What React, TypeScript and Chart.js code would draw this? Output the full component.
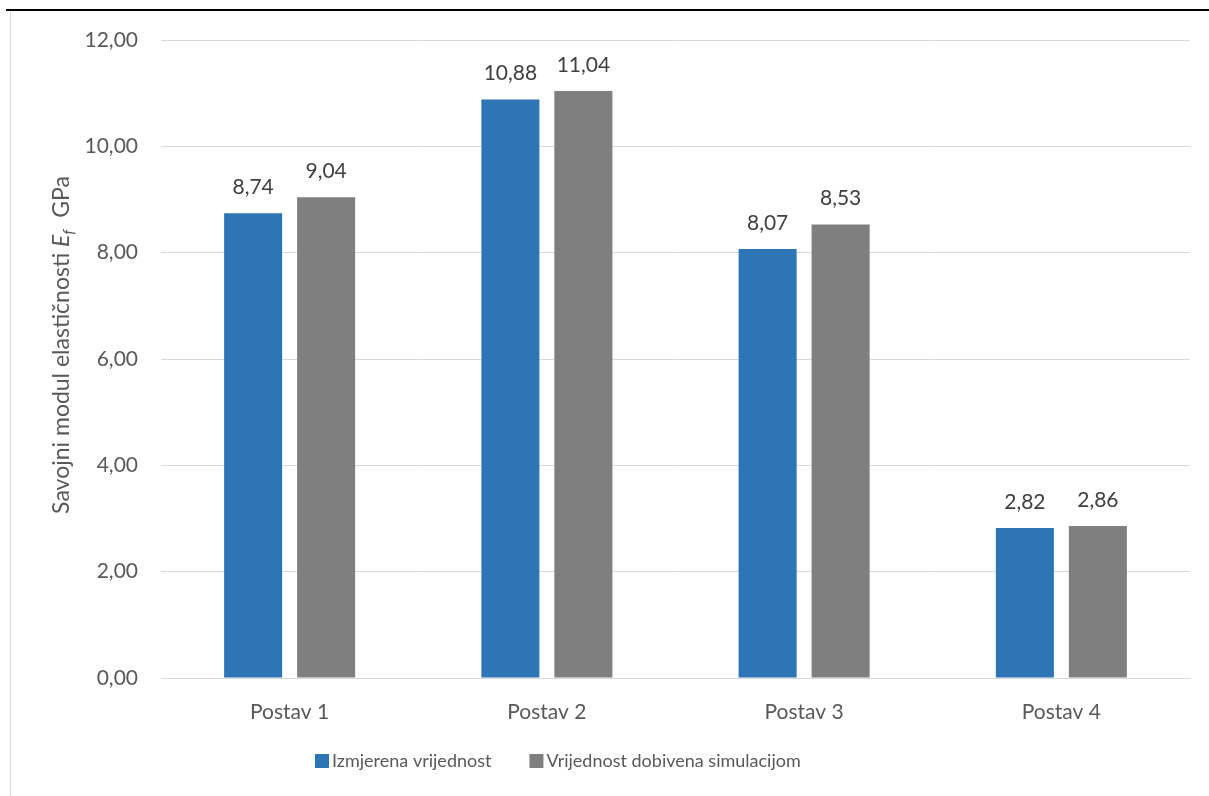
import React, { useEffect, useRef } from "react";
import { Chart, registerables } from "chart.js";
Chart.register(...registerables);

const categories = ["Postav 1", "Postav 2", "Postav 3", "Postav 4"];
const measured = [8.74, 10.88, 8.07, 2.82];
const simulated = [9.04, 11.04, 8.53, 2.86];
const seriesNames = ["Izmjerena vrijednost", "Vrijednost dobivena simulacijom"];
const seriesColors = ["#2e75b6", "#7f7f7f"];
const yMin = 0;
const yMax = 12;
const yStep = 2;

const FONT = "Lato";
const fmt = (v: number) => v.toFixed(2).replace(".", ",");

const overlayPlugin = {
  id: "overlay",
  afterDatasetsDraw(chart: any) {
    const ctx = chart.ctx;
    ctx.save();
    ctx.font = `21px ${FONT}`;
    ctx.fillStyle = "#404040";
    ctx.textAlign = "center";
    ctx.textBaseline = "middle";
    chart.data.datasets.forEach((ds: any, i: number) => {
      const meta = chart.getDatasetMeta(i);
      meta.data.forEach((bar: any, j: number) => {
        ctx.fillText(fmt(ds.data[j]), bar.x, bar.y - 26);
      });
    });
    ctx.restore();
  },
  afterDraw(chart: any) {
    const ctx = chart.ctx;
    // Y-axis title
    ctx.save();
    ctx.fillStyle = "#595959";
    ctx.textBaseline = "alphabetic";
    const fNormal = `23px ${FONT}`;
    const fItal = `italic 23px ${FONT}`;
    const fSub = `italic 16px ${FONT}`;
    const parts = [
      { t: "Savojni modul elastičnosti ", f: fNormal, dy: 0 },
      { t: "E", f: fItal, dy: 0 },
      { t: "f", f: fSub, dy: 5 },
      { t: "  GPa", f: fNormal, dy: 0 },
    ];
    let total = 0;
    const widths = parts.map((p) => {
      ctx.font = p.f;
      const w = ctx.measureText(p.t).width;
      total += w;
      return w;
    });
    ctx.translate(69, 345);
    ctx.rotate(-Math.PI / 2);
    let x = -total / 2;
    parts.forEach((p, i) => {
      ctx.font = p.f;
      ctx.fillText(p.t, x, p.dy);
      x += widths[i];
    });
    ctx.restore();

    // Legend
    ctx.save();
    ctx.font = `18px ${FONT}`;
    ctx.textBaseline = "middle";
    ctx.textAlign = "left";
    let lx = 315;
    const ly = 761;
    chart.data.datasets.forEach((ds: any) => {
      ctx.fillStyle = ds.backgroundColor;
      ctx.fillRect(lx, ly - 7, 14, 14);
      lx += 17;
      ctx.fillStyle = "#595959";
      ctx.fillText(ds.label, lx, ly);
      lx += ctx.measureText(ds.label).width + 38;
    });
    ctx.restore();
  },
};

export default function App() {
  const ref = useRef<HTMLCanvasElement>(null);
  useEffect(() => {
    const chart = new Chart(ref.current as HTMLCanvasElement, {
      type: "bar",
      data: {
        labels: categories,
        datasets: seriesNames.map((name, i) => ({
          label: name,
          data: i === 0 ? measured : simulated,
          backgroundColor: seriesColors[i],
          borderWidth: 0,
          categoryPercentage: 0.5675,
          barPercentage: 0.795,
        })),
      },
      options: {
        responsive: false,
        animation: false,
        devicePixelRatio: 1,
        layout: { padding: { top: 40, right: 19, left: 0, bottom: 0 } },
        plugins: {
          legend: { display: false },
          tooltip: { enabled: false },
          title: { display: false },
        },
        scales: {
          x: {
            grid: { display: false, drawTicks: false },
            border: { color: "#d9d9d9", width: 1 },
            ticks: {
              font: { family: FONT, size: 21 },
              color: "#595959",
              padding: 22,
            },
            afterFit: (s: any) => {
              s.height = 118;
            },
          },
          y: {
            min: yMin,
            max: yMax,
            grid: { color: "#d9d9d9", lineWidth: 1, drawTicks: false },
            border: { display: false },
            ticks: {
              stepSize: yStep,
              font: { family: FONT, size: 21 },
              color: "#595959",
              padding: 23,
              callback: (v: any) => fmt(Number(v)),
            },
            afterFit: (s: any) => {
              s.width = 161;
            },
          },
        },
      },
      plugins: [overlayPlugin],
    });
    return () => chart.destroy();
  }, []);
  return (
    <div style={{ position: "fixed", left: 0, top: 0, width: 1209, height: 796, background: "#fff" }}>
      <canvas ref={ref} width={1209} height={796} style={{ position: "absolute", left: 0, top: 0 }} />
      <div style={{ position: "absolute", left: 6, top: 9, width: 1203, height: 2, background: "#000" }} />
      <div style={{ position: "absolute", left: 10, top: 11, width: 1, height: 785, background: "#d9d9d9" }} />
    </div>
  );
}
